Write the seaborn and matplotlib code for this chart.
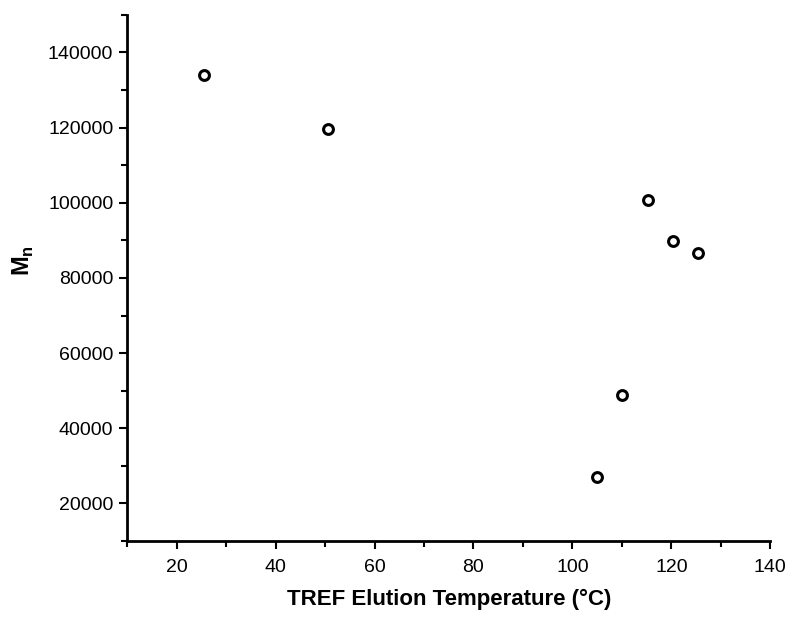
import numpy as np
import pandas as pd
import matplotlib
matplotlib.use('Agg')
import matplotlib.pyplot as plt
import seaborn as sns
from matplotlib.ticker import MultipleLocator

# values
temperature = [25.5, 50.5, 105, 110, 115.3, 120.3, 125.3]
mn = [134000, 119700, 26900, 48800, 100800, 89900, 86700]

df = pd.DataFrame({'temp': temperature, 'mn': mn})

sns.set_style('ticks')
plt.rcParams['font.family'] = ['Liberation Sans', 'DejaVu Sans']
plt.rcParams['mathtext.fontset'] = 'custom'
plt.rcParams['mathtext.rm'] = 'Liberation Sans:bold'
plt.rcParams['mathtext.bf'] = 'Liberation Sans:bold'
plt.rcParams['text.color'] = 'black'
plt.rcParams['axes.labelcolor'] = 'black'

fig = plt.figure(figsize=(7.9, 6.19), dpi=100)
ax = fig.add_axes([0.161, 0.126, 0.814, 0.850])

sns.scatterplot(data=df, x='temp', y='mn', ax=ax, marker='o', s=50,
                facecolor='white', edgecolor='black', linewidth=2.2, zorder=3)

ax.set_xlim(10, 140)
ax.set_ylim(10000, 150000)
ax.xaxis.set_minor_locator(MultipleLocator(10))
ax.yaxis.set_minor_locator(MultipleLocator(10000))
ax.set_xticks(np.arange(20, 141, 20))
ax.set_yticks(np.arange(20000, 140001, 20000))

ax.tick_params(which='major', length=6, width=1.5, labelsize=14, color='black', labelcolor='black')
ax.tick_params(which='minor', length=4, width=1.5, color='black')
ax.tick_params(axis='x', pad=7)
ax.tick_params(axis='y', pad=4)

sns.despine(ax=ax)
for side in ['left', 'bottom']:
    ax.spines[side].set_linewidth(2)
    ax.spines[side].set_color('black')

ax.set_xlabel('TREF Elution Temperature (°C)', fontsize=16, fontweight='bold', labelpad=9)
ax.set_ylabel(r'$\mathbf{M}_\mathbf{n}$', fontsize=17)
ax.yaxis.set_label_coords(-0.142, 0.534)

plt.savefig('out.png', dpi=100)
